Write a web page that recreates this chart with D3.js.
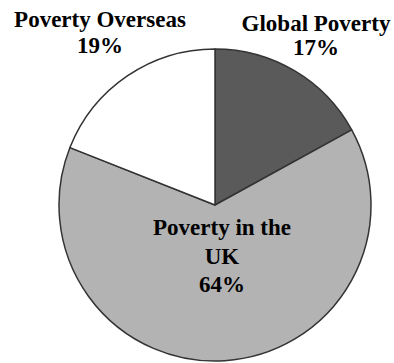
<!DOCTYPE html>
<html>
<head>
<meta charset="utf-8">
<script src="https://cdn.jsdelivr.net/npm/d3@7"></script>
<style>
  html, body { margin: 0; padding: 0; background: #fff; }
  svg { display: block; }
  text { font-family: "Liberation Serif", "Times New Roman", serif; font-weight: bold; fill: #000; }
</style>
</head>
<body>
<svg id="chart" width="394" height="363"></svg>
<script>
const categories = ["Global Poverty", "Poverty in the UK", "Poverty Overseas"];
const values = [17, 64, 19];
const colors = ["#5a5a5a", "#b3b3b3", "#ffffff"];

const width = 394, height = 363;
const cx = 215, cy = 205, radius = 156;

const svg = d3.select("#chart");
const g = svg.append("g").attr("transform", `translate(${cx},${cy})`);

const data = categories.map((c, i) => ({ name: c, value: values[i], color: colors[i] }));
const pie = d3.pie().value(d => d.value).sort(null);
const arc = d3.arc().innerRadius(0).outerRadius(radius);
const arcs = pie(data);

g.selectAll("path")
  .data(arcs)
  .join("path")
  .attr("d", arc)
  .attr("fill", d => d.data.color)
  .attr("stroke", "#333")
  .attr("stroke-width", 1.5)
  .attr("stroke-linejoin", "round");

// label layout (absolute page positions of text lines)
const labelLayout = {
  "Global Poverty": { x: 316, lines: ["Global Poverty"], y0: 31, dy: 24 },
  "Poverty Overseas": { x: 100, lines: ["Poverty Overseas"], y0: 27, dy: 26 },
  "Poverty in the UK": { x: 222, lines: ["Poverty in the", "UK"], y0: 235, dy: 28.5 }
};
const total = d3.sum(values);
const fmt = v => Math.round(v / total * 100) + "%";

data.forEach(d => {
  const L = labelLayout[d.name];
  const lines = L.lines.concat([fmt(d.value)]);
  const t = svg.append("text")
    .attr("text-anchor", "middle")
    .attr("font-size", 23);
  lines.forEach((ln, i) => {
    t.append("tspan")
      .attr("x", L.x)
      .attr("y", L.y0 + i * L.dy)
      .text(ln);
  });
});
</script>
</body>
</html>
